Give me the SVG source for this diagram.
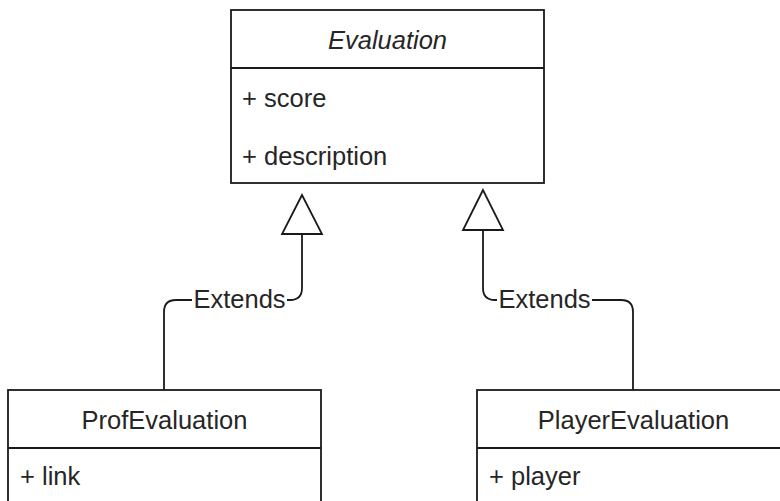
<svg xmlns="http://www.w3.org/2000/svg" width="780" height="501" viewBox="0 0 780 501">
  <style>
    .box { fill: #ffffff; stroke: #1a1a1a; stroke-width: 1.8; }
    .div { stroke: #1a1a1a; stroke-width: 1.8; fill: none; }
    .t { font-family: "Liberation Sans", Arial, Helvetica, sans-serif; font-size: 25.5px; fill: #262626; }
    .c { text-anchor: middle; }
    .edge { fill: none; stroke: #1a1a1a; stroke-width: 1.8; }
    .tri { fill: #ffffff; stroke: #1a1a1a; stroke-width: 1.8; stroke-linejoin: miter; }
    .lblbg { fill: #ffffff; }
  </style>
  <rect width="780" height="501" fill="#ffffff"/>

  <g id="connectors">
    <g id="edge-prof">
      <path class="edge" d="M164,390 V312 Q164,300 176,300 H290 Q302,300 302,288 V234"/>
      <polygon class="tri" points="302,195 282,234 322,234"/>
      <rect class="lblbg" x="192" y="288" width="95" height="24"/>
      <text class="t c" x="239.5" y="308">Extends</text>
    </g>
    <g id="edge-player">
      <path class="edge" d="M633,390 V312 Q633,300 621,300 H495 Q483,300 483,288 V230"/>
      <polygon class="tri" points="483,190 463,230 503,230"/>
      <rect class="lblbg" x="497" y="288" width="95" height="24"/>
      <text class="t c" x="544.5" y="308">Extends</text>
    </g>
  </g>

  <g id="Evaluation">
    <rect class="box" x="231" y="10" width="313" height="173"/>
    <line class="div" x1="231" y1="68" x2="544" y2="68"/>
    <text class="t c" x="387.5" y="49" font-style="italic">Evaluation</text>
    <text class="t" x="242" y="107">+ score</text>
    <text class="t" x="242" y="165">+ description</text>
  </g>

  <g id="ProfEvaluation">
    <rect class="box" x="8" y="390" width="313" height="140"/>
    <line class="div" x1="8" y1="448" x2="321" y2="448"/>
    <text class="t c" x="164.5" y="429">ProfEvaluation</text>
    <text class="t" x="20" y="485">+ link</text>
  </g>

  <g id="PlayerEvaluation">
    <rect class="box" x="477" y="390" width="313" height="140"/>
    <line class="div" x1="477" y1="448" x2="790" y2="448"/>
    <text class="t c" x="633.5" y="429">PlayerEvaluation</text>
    <text class="t" x="489" y="485">+ player</text>
  </g>
</svg>
